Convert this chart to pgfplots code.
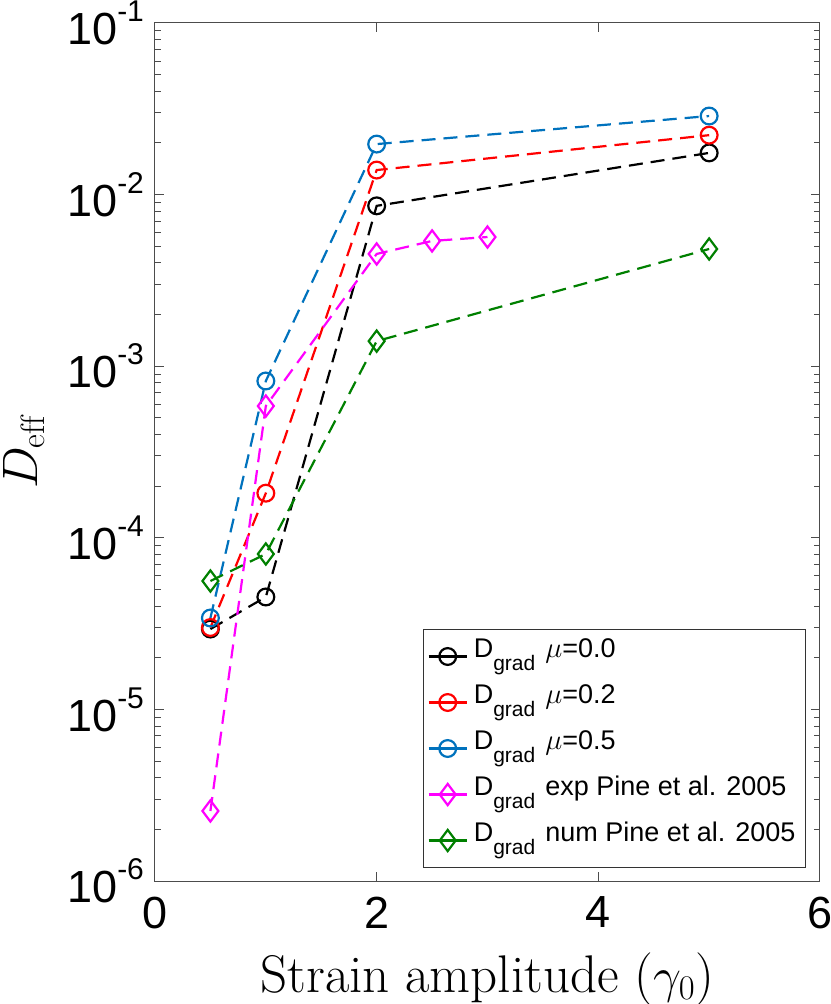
\documentclass[border=0pt]{standalone}
\usepackage{fontspec}
\usepackage{pgfplots}
\pgfplotsset{compat=1.18}
\newfontfamily\hv{Liberation Sans}
\newcommand\tl[1]{10\raisebox{11.5pt}{\fontsize{15}{16}\selectfont #1}}
\newcommand\Dg{D\raisebox{-6.5pt}{\fontsize{10.5}{12}\selectfont grad}\hspace{5pt}}
\definecolor{mblue}{rgb}{0,0.447,0.741}
\definecolor{mgreen}{rgb}{0,0.5,0}
\definecolor{mmag}{rgb}{1,0,1}
\begin{document}
\begin{tikzpicture}
\begin{axis}[
  scale only axis, width=332.5pt, height=429pt,
  xmin=0, xmax=6, ymin=1e-6, ymax=1e-1, ymode=log,
  xtick={0,2,4,6},
  ytick={1e-6,1e-5,1e-4,1e-3,1e-2,1e-1},
  yticklabels={\tl{-6},\tl{-5},\tl{-4},\tl{-3},\tl{-2},\tl{-1}},
  /pgf/number format/assume math mode=true,
  ticklabel style={font=\hv\fontsize{22.5}{26}\selectfont},
  xticklabel style={yshift=-4.3pt},
  yticklabel style={xshift=-2pt},
  tick align=inside,
  axis line style={black!70, line width=0.5pt},
  every tick/.style={black!70, line width=0.5pt},
  xlabel={Strain amplitude ($\gamma_0$)},
  ylabel={$D_{\mathrm{eff}}$},
  xlabel style={font=\fontsize{26.5}{30}\selectfont, at={(axis description cs:0.5,-0.1294)}, anchor=base},
  ylabel style={font=\fontsize{24}{28}\selectfont, at={(axis description cs:-0.1774,0.5)}, anchor=base},
  legend style={at={(1,0)}, anchor=south east, xshift=-7pt, yshift=6.5pt,
    font=\hv\fontsize{13.5}{16}\selectfont, draw=black!80, line width=0.5pt,
    inner xsep=2pt, inner ysep=2pt, row sep=0pt,
    nodes={text height=10pt, text depth=9pt, inner ysep=2pt, inner xsep=3pt}},
  legend cell align=left,
  legend image code/.code={\draw[mark repeat=2,mark phase=2,#1,solid] plot coordinates {(0pt,0pt)(9.5pt,0pt)(19pt,0pt)};},
  every axis plot/.append style={line width=1.1pt, dash pattern=on 7pt off 4pt},
]
\addplot[black, mark=o, mark size=4.2pt, mark options={solid}] coordinates {(0.5,2.94e-5)(1,4.52e-5)(2,8.6e-3)(5,1.75e-2)};
\addlegendentry{\Dg$\mu$=0.0}
\addplot[red, mark=o, mark size=4.2pt, mark options={solid}] coordinates {(0.5,3.0e-5)(1,1.82e-4)(2,1.39e-2)(5,2.22e-2)};
\addlegendentry{\Dg$\mu$=0.2}
\addplot[mblue, mark=o, mark size=4.2pt, mark options={solid}] coordinates {(0.5,3.41e-5)(1,8.2e-4)(2,1.97e-2)(5,2.87e-2)};
\addlegendentry{\Dg$\mu$=0.5}
\addplot[mmag, mark=diamond, mark size=5.3pt, mark options={solid}] coordinates {(0.5,2.56e-6)(1,5.86e-4)(2,4.51e-3)(2.5,5.37e-3)(3,5.66e-3)};
\addlegendentry{\Dg exp Pine et al. 2005}
\addplot[mgreen, mark=diamond, mark size=5.3pt, mark options={solid}] coordinates {(0.5,5.6e-5)(1,8.05e-5)(2,1.40e-3)(5,4.82e-3)};
\addlegendentry{\Dg num Pine et al. 2005}
\end{axis}
\pgfresetboundingbox
\path[use as bounding box] (-77.5pt,-61.5pt) rectangle (337.5pt,440.5pt);
\end{tikzpicture}
\end{document}
